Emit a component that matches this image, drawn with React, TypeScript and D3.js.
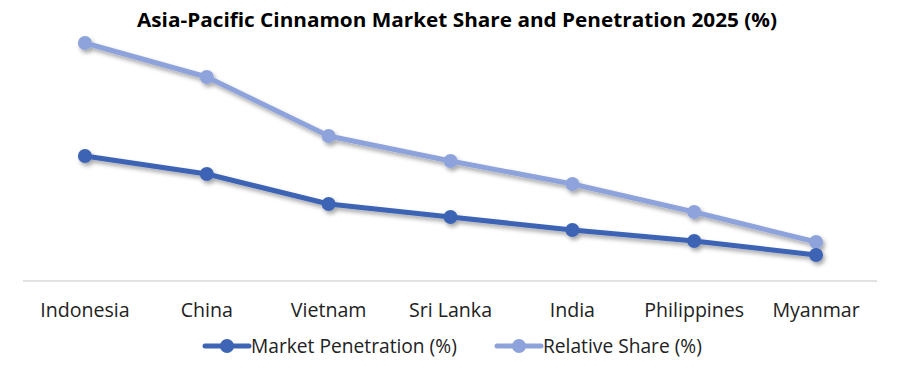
import React from "react";
import * as d3 from "d3";

const categories = ["Indonesia", "China", "Vietnam", "Sri Lanka", "India", "Philippines", "Myanmar"];
const marketPenetration = [12.4, 10.6, 7.6, 6.3, 5.0, 3.9, 2.5];
const relativeShare = [23.7, 20.3, 14.4, 11.9, 9.6, 6.8, 3.8];
const seriesNames = ["Market Penetration (%)", "Relative Share (%)"];
const title = "Asia-Pacific Cinnamon  Market Share and Penetration 2025 (%)";

const W = 900, H = 377;
const colors = ["#3E64B5", "#8EA3DB"];
const font = "'Open Sans', sans-serif";

export default function App() {
  const x = d3.scaleBand().domain(categories).range([24, 877]).paddingInner(0).paddingOuter(0);
  const y = d3.scaleLinear().domain([0, 25]).range([280, 30]);
  const cx = (c: string) => (x(c) as number) + x.bandwidth() / 2;
  const line = d3.line<number>().x((_, i) => cx(categories[i])).y((v) => y(v));
  const series = [marketPenetration, relativeShare];
  return (
    <svg width={W} height={H} style={{ display: "block", position: "absolute", left: 0, top: 0 }}>
      <defs>
        <filter id="sh" x="-10%" y="-30%" width="120%" height="160%">
          <feDropShadow dx="2" dy="3" stdDeviation="2" floodColor="#000" floodOpacity="0.35" />
        </filter>
      </defs>
      <rect width={W} height={H} fill="#fff" />
      <text x={457} y={27} textAnchor="middle" fontFamily="'Open Sans', sans-serif" fontWeight="bold" fontSize={20} fill="#000" textLength={640} lengthAdjust="spacingAndGlyphs">{title}</text>
      <line x1={23} x2={877} y1={281} y2={281} stroke="#D9D9D9" strokeWidth={1.5} />
      {categories.map((c) => (
        <text key={c} x={cx(c)} y={317} textAnchor="middle" fontFamily={font} fontSize={19.6} fill="#222">{c}</text>
      ))}
      {[1, 0].map((si) => (
        <g key={si} filter="url(#sh)">
          <path d={line(series[si]) || ""} fill="none" stroke={colors[si]} strokeWidth={5} strokeLinejoin="round" strokeLinecap="round" />
          {series[si].map((v, i) => (
            <circle key={i} cx={cx(categories[i])} cy={y(v)} r={7} fill={colors[si]} />
          ))}
        </g>
      ))}
      {seriesNames.map((n, i) => {
        const lx = i === 0 ? 205 : 497;
        return (
          <g key={n}>
            <line x1={lx} x2={lx + 44} y1={346} y2={346} stroke={colors[i]} strokeWidth={5} strokeLinecap="round" />
            <circle cx={lx + 22} cy={346} r={7} fill={colors[i]} />
            <text x={lx + 46} y={352.5} fontFamily={font} fontSize={19.2} fill="#222">{n}</text>
          </g>
        );
      })}
    </svg>
  );
}
